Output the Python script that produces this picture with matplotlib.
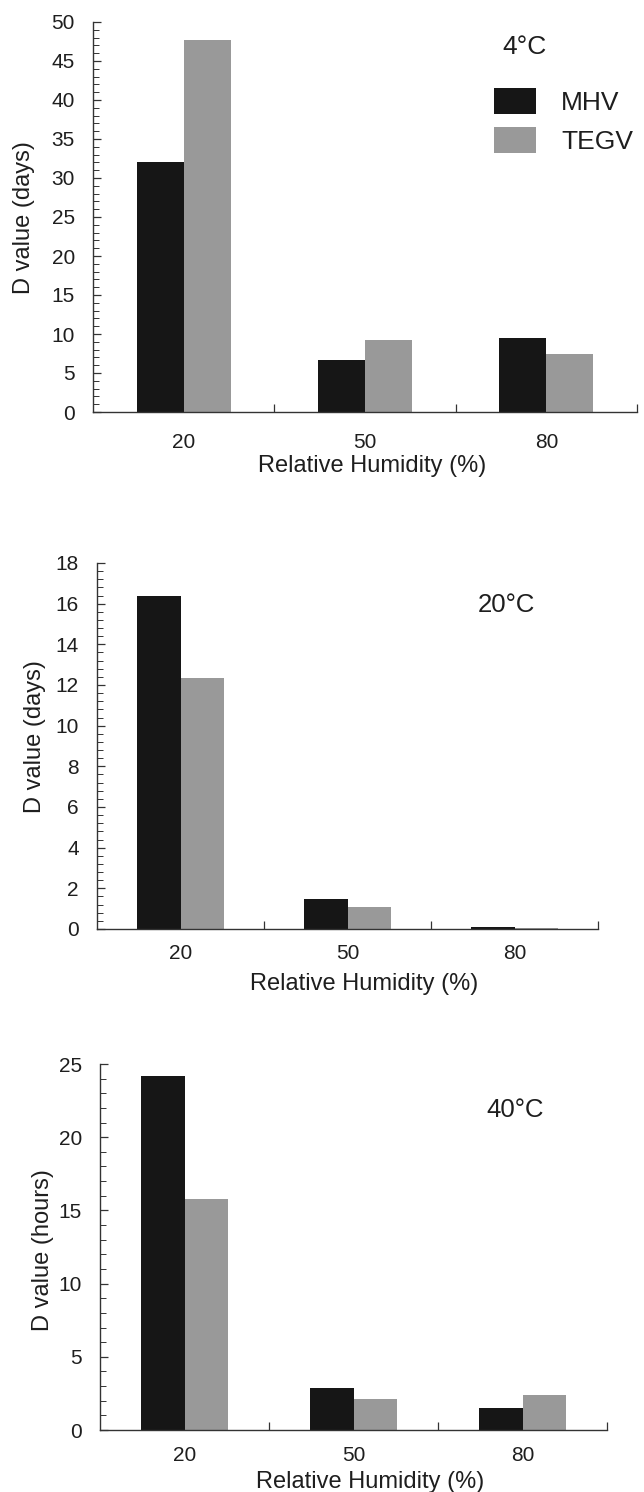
import matplotlib
matplotlib.use("Agg")
import matplotlib.pyplot as plt
from matplotlib.patches import Patch
import numpy as np

plt.rcParams['font.family'] = ['Liberation Sans', 'DejaVu Sans']

categories = ["20", "50", "80"]
series_names = ["MHV", "TEGV"]

mhv_4c = [32.1, 6.7, 9.45]
tegv_4c = [47.7, 9.2, 7.4]
mhv_20c = [16.4, 1.46, 0.11]
tegv_20c = [12.33, 1.1, 0.03]
mhv_40c = [24.2, 2.89, 1.48]
tegv_40c = [15.76, 2.1, 2.39]

temps = ["4°C", "20°C", "40°C"]
xlabel = "Relative Humidity (%)"
ylabels = ["D value (days)", "D value (days)", "D value (hours)"]
ymax = [50, 18, 25]
ymajor = [5, 2, 5]
yminor = [1, 0.4, 1]

W, H = 644, 1492
fig = plt.figure(figsize=(W / 100, H / 100), dpi=100)

# layout in pixels
rects = [(93, 637, 22, 412), (97, 598, 563, 929), (100, 607, 1064, 1430)]
temp_pos = [(502, 47), (478, 605), (486, 1110)]
temp_size = [19, 18.5, 18.5]
xlabel_pos = [(372, 466), (364, 984), (370, 1482)]
ylabel_pos = [(24, 218), (35, 737), (43, 1250)]
xtick_pad = [15, 10.7, 11.4]

black = "#161616"
grey = "#999999"
txt_col = "#1e1e1e"
data = [(mhv_4c, tegv_4c), (mhv_20c, tegv_20c), (mhv_40c, tegv_40c)]
bw = 0.26

for i, (m, t) in enumerate(data):
    l, r, tp, b = rects[i]
    ax = fig.add_axes([l / W, 1 - b / H, (r - l) / W, (b - tp) / H])
    x = np.arange(len(categories))
    ax.bar(x - bw / 2, m, width=bw, color=black, label=series_names[0])
    ax.bar(x + bw / 2, t, width=bw, color=grey, label=series_names[1])
    ax.set_xlim(-0.5, 2.5)
    ax.set_ylim(0, ymax[i])
    for s in ["top", "right"]:
        ax.spines[s].set_visible(False)
    for s in ["left", "bottom"]:
        ax.spines[s].set_linewidth(1.0)
        ax.spines[s].set_color("#333333")
    ax.set_yticks(np.arange(0, ymax[i] + 0.001, ymajor[i]))
    ax.set_yticks(np.arange(0, ymax[i] + 0.001, yminor[i]), minor=True)
    ax.tick_params(axis="y", which="major", direction="in", length=6, width=0.9,
                   labelsize=15, pad=13, colors="#333333", labelcolor=txt_col)
    ax.tick_params(axis="y", which="minor", direction="in", length=4, width=0.7,
                   colors="#333333")
    ax.set_xticks([0.5, 1.5, 2.5])
    ax.set_xticklabels([])
    ax.set_xticks(x, minor=True)
    ax.set_xticklabels(categories, minor=True)
    ax.tick_params(axis="x", which="major", direction="in", length=6, width=0.9,
                   colors="#333333")
    ax.tick_params(axis="x", which="minor", length=0, labelsize=15,
                   pad=xtick_pad[i], labelcolor=txt_col)
    fig.text(xlabel_pos[i][0] / W, 1 - xlabel_pos[i][1] / H, xlabel,
             fontsize=17, ha="center", va="center", color=txt_col)
    fig.text(ylabel_pos[i][0] / W, 1 - ylabel_pos[i][1] / H, ylabels[i],
             fontsize=17, ha="center", va="center", rotation=90, color=txt_col)
    fig.text(temp_pos[i][0] / W, 1 - temp_pos[i][1] / H, temps[i],
             fontsize=temp_size[i], va="center", ha="left", color=txt_col)
    if i == 0:
        handles = [Patch(facecolor=black), Patch(facecolor=grey)]
        leg = fig.legend(handles, series_names, loc="upper left",
                         bbox_to_anchor=(494 / W, 1 - 88 / H),
                         frameon=False, fontsize=19, handlelength=1.6,
                         handleheight=1.15, handletextpad=0.95,
                         labelspacing=0.45, borderpad=0, borderaxespad=0)
        for txt in leg.get_texts():
            txt.set_color(txt_col)

fig.savefig("out.png", dpi=100)
